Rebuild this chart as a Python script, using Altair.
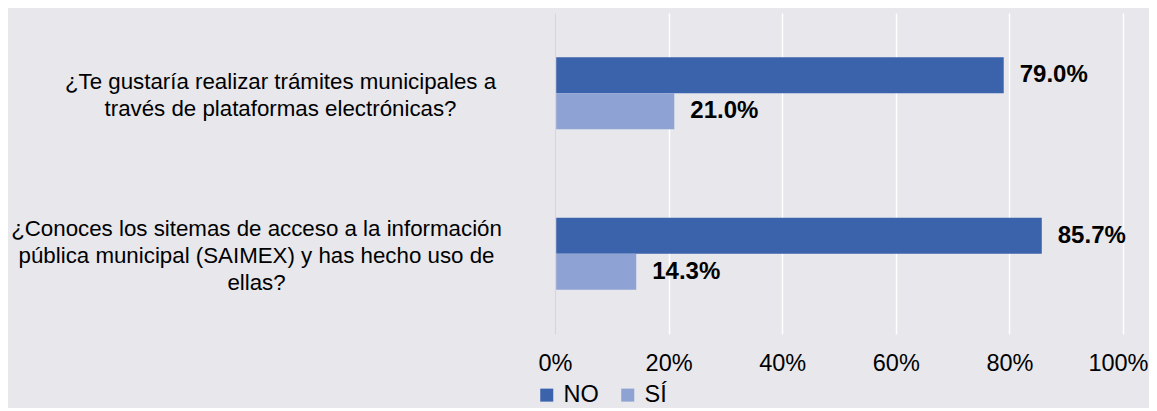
import altair as alt
import pandas as pd

preguntas = [
    "¿Te gustaría realizar trámites municipales a|través de plataformas electrónicas?",
    "¿Conoces los sitemas de acceso a la información|pública municipal (SAIMEX) y has hecho uso de|ellas?",
]
series = ["NO", "SÍ"]
no_vals = [79.0, 85.7]
si_vals = [21.0, 14.3]
tick_vals = [0, 20, 40, 60, 80, 100]
colores = ["#3b63ab", "#8ea2d4"]

rows = []
for q, n, s in zip(preguntas, no_vals, si_vals):
    rows.append({"pregunta": q, "serie": series[0], "valor": n})
    rows.append({"pregunta": q, "serie": series[1], "valor": s})
df = pd.DataFrame(rows)

FONT = "Liberation Sans"
TEST_Q1 = "indexof(datum.value, '¿Te') == 0"
TEST_LAST = "datum.value == 100"

y_enc = alt.Y(
    "pregunta:N",
    sort=preguntas,
    scale=alt.Scale(paddingInner=0.551, paddingOuter=0.2755),
    axis=alt.Axis(
        title=None,
        labelExpr="split(datum.label, '|')",
        labelAlign="center",
        labelBaseline="middle",
        labelPadding={"condition": {"test": TEST_Q1, "value": 275}, "value": 299},
        labelOffset={"condition": {"test": TEST_Q1, "value": -11}, "value": -24.5},
        labelFont=FONT,
        labelFontSize=22.3,
        labelColor="#000000",
        labelLineHeight=27,
        labelLimit=800,
        domainColor="#d6d6d9",
        domainWidth=1.5,
        ticks=False,
        grid=False,
        zindex=2,
    ),
)

x_enc = alt.X(
    "valor:Q",
    scale=alt.Scale(domain=[0, 100]),
    axis=alt.Axis(
        title=None,
        values=tick_vals,
        labelExpr="datum.value + '%'",
        labelFont=FONT,
        labelFontSize=23.5,
        labelColor="#000000",
        labelPadding=17,
        labelFlush=False,
        labelAlign={"condition": {"test": TEST_LAST, "value": "right"}, "value": "center"},
        labelOffset={"condition": {"test": TEST_LAST, "value": 25}, "value": 0},
        domain=False,
        ticks=False,
        grid=True,
        gridColor="#ffffff",
        gridWidth=1.5,
    ),
)

yoff = alt.YOffset("serie:N", sort=series, scale=alt.Scale(paddingInner=0, paddingOuter=0))

bars = alt.Chart(df).mark_bar().encode(
    y=y_enc,
    yOffset=yoff,
    x=x_enc,
    color=alt.Color(
        "serie:N",
        sort=series,
        scale=alt.Scale(domain=series, range=colores),
        legend=alt.Legend(
            title=None,
            orient="none",
            legendX=-20,
            legendY=370,
            direction="horizontal",
            symbolType="square",
            symbolSize=169,
            symbolStrokeWidth=0,
            labelFont=FONT,
            labelFontSize=23.5,
            labelColor="#000000",
            labelOffset=5,
            columnPadding=17,
        ),
    ),
)

labels = alt.Chart(df).mark_text(
    align="left", baseline="middle", dx=16, font=FONT, fontSize=24, fontWeight="bold", color="#000000"
).transform_calculate(
    etiqueta="format(datum.valor, '.1f') + '%'"
).encode(
    y=alt.Y("pregunta:N", sort=preguntas),
    yOffset=yoff,
    x="valor:Q",
    text="etiqueta:N",
)

chart = (
    alt.layer(bars, labels)
    .properties(
        width=568,
        height=321,
        padding={"left": 547, "top": 5, "right": 26, "bottom": 74},
        autosize=alt.AutoSizeParams(type="none"),
        background="#e7e7ec",
    )
    .configure_view(stroke=None)
)

chart.save("out.html", embed_options={"renderer": "svg", "actions": False})
